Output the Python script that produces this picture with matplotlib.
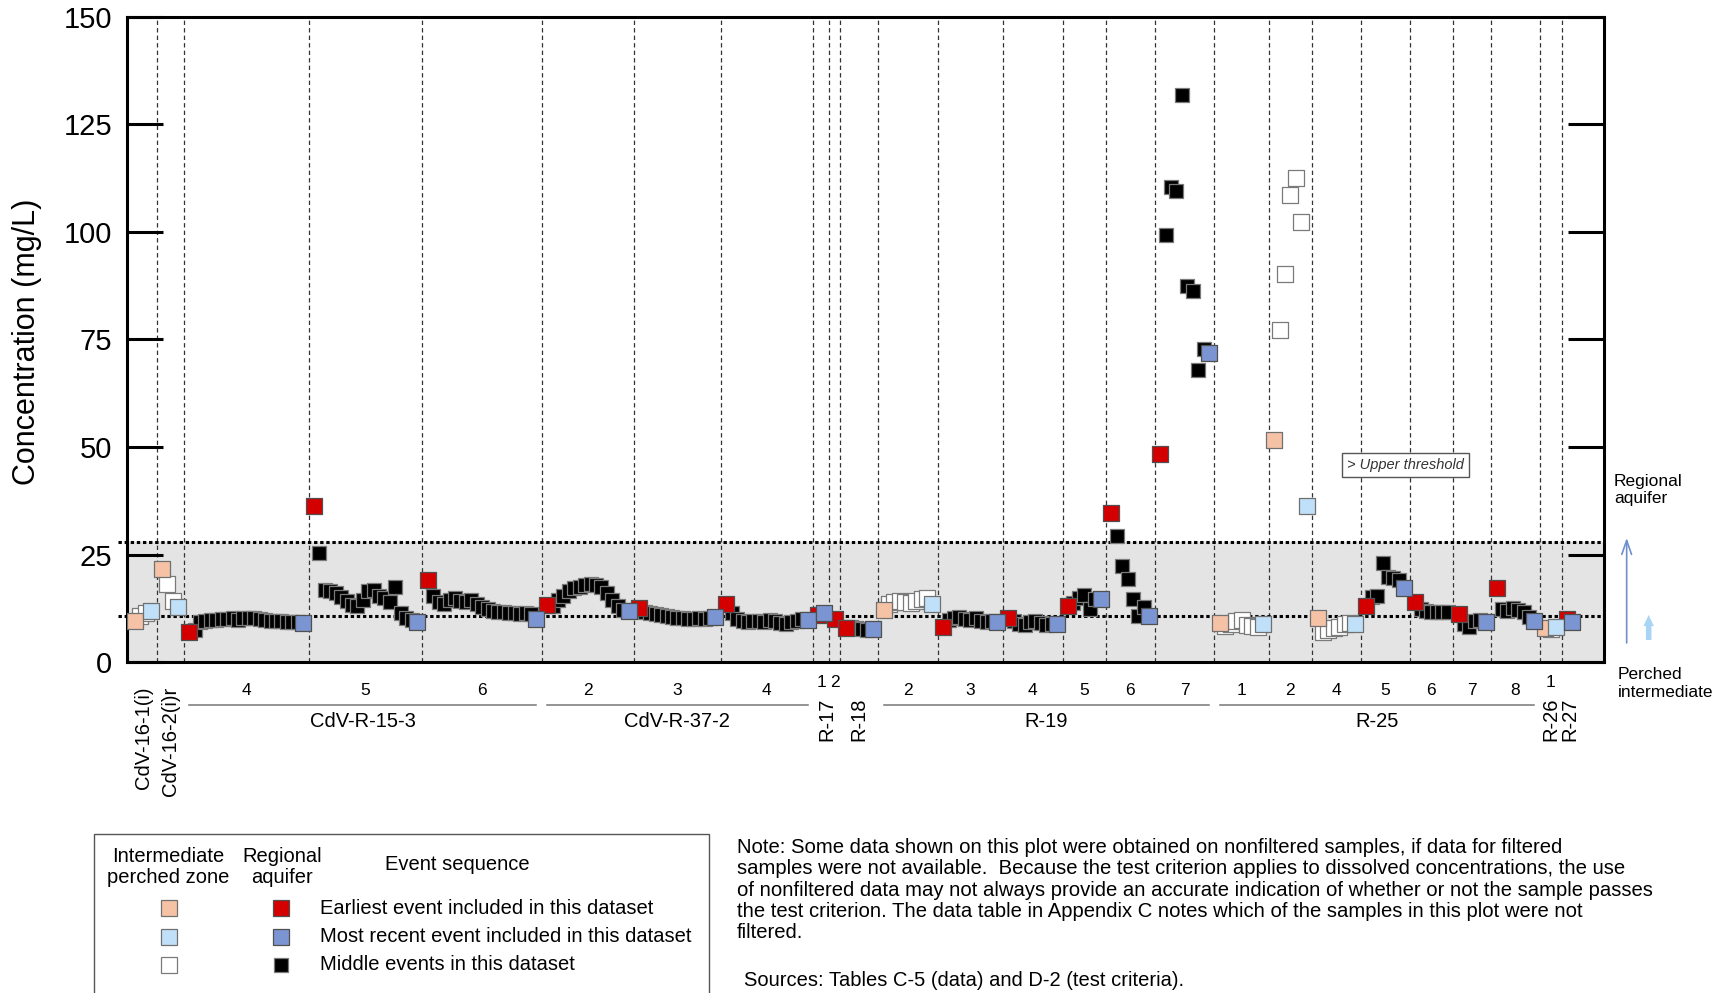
import numpy as np
import matplotlib.pyplot as plt
from itertools import groupby
from matplotlib.lines import Line2D
from matplotlib.patches import Rectangle
from matplotlib.transforms import blended_transform_factory

plt.rcParams['font.family'] = ['Liberation Sans', 'DejaVu Sans']

# concentrations (mg/L) per well screen, in sampling order
cdv16_1 = [9.5, 10.8, 11.5, 12.0]
cdv16_2 = [21.6, 18.3, 14.3, 12.9]
r15_3_s4 = [7.1, 7.6, 9.3, 9.6, 9.8, 9.9, 10.0, 10.1, 10.2, 9.8, 10.3, 10.4, 10.2, 10.0, 9.8, 9.6, 9.5, 9.5, 9.4, 9.3, 9.3, 9.1]
r15_3_s5 = [36.3, 25.3, 16.8, 16.6, 16.0, 15.2, 14.2, 13.4, 13.2, 14.5, 16.6, 16.8, 15.5, 15.0, 14.1, 17.6, 11.4, 10.2, 9.8, 9.4]
r15_3_s6 = [19.1, 15.5, 14.0, 13.5, 14.5, 15.0, 14.2, 14.0, 14.5, 13.5, 12.9, 12.5, 12.0, 11.8, 11.6, 11.4, 11.5, 11.3, 11.5, 11.2, 10.0]
r37_2_s2 = [13.3, 13.0, 14.5, 15.5, 16.5, 17.2, 17.6, 18.0, 18.3, 18.0, 17.4, 16.0, 14.5, 13.0, 12.2, 11.9]
r37_2_s3 = [12.6, 11.8, 11.5, 11.2, 11.0, 10.8, 10.6, 10.4, 10.2, 10.0, 10.0, 10.2, 10.0, 10.4, 10.6]
r37_2_s4 = [13.5, 11.5, 10.0, 9.5, 9.4, 9.6, 9.5, 9.3, 9.8, 9.6, 9.2, 9.0, 9.4, 9.6, 10.0, 9.8]
r17_s1 = [11.0, 11.4]
r17_s2 = [10.0]
r18 = [7.9, 8.2, 7.9, 7.7, 7.5, 7.7]
r19_s2 = [12.2, 13.5, 14.0, 14.2, 14.0, 13.8, 14.2, 14.8, 15.0, 13.5]
r19_s3 = [8.3, 9.8, 10.3, 10.5, 10.0, 9.8, 10.2, 9.6, 9.3, 9.5, 9.4]
r19_s4 = [10.2, 9.5, 9.0, 8.7, 9.3, 9.6, 9.2, 8.7, 9.0, 8.8]
r19_s5 = [13.1, 13.8, 15.0, 15.6, 12.4, 14.6, 14.8]
r19_s6 = [34.8, 29.3, 22.4, 19.3, 14.6, 10.8, 12.9, 10.8]
r19_s7 = [48.5, 99.3, 110.5, 109.5, 131.8, 87.4, 86.2, 67.9, 72.7, 71.8]
r25_s1 = [9.1, 8.5, 9.0, 9.5, 9.8, 8.7, 8.5, 8.3, 8.9]
r25_s2 = [51.6, 77.2, 90.2, 108.5, 112.6, 102.2, 36.3]
r25_s4 = [10.2, 7.0, 7.5, 8.0, 8.3, 8.8, 9.2, 8.8]
r25_s5 = [13.2, 15.2, 15.5, 23.1, 19.9, 19.6, 19.1, 17.2]
r25_s6 = [14.1, 12.5, 12.0, 11.8, 11.7, 11.7, 11.6]
r25_s7 = [11.2, 9.0, 8.2, 9.6, 9.8, 9.3]
r25_s8 = [17.2, 12.3, 12.0, 12.6, 12.2, 11.8, 10.6, 9.6]
r26 = [7.9, 7.8, 8.1]
r27 = [10.0, 9.4]

upper_threshold = 28.0
lower_threshold = 10.8

# (well, screen, zone P=perched / R=regional, values, last sample is the most recent event)
segments = [
    ("CdV-16-1(i)", "", "P", cdv16_1, True),
    ("CdV-16-2(i)r", "", "P", cdv16_2, True),
    ("CdV-R-15-3", "4", "R", r15_3_s4, True),
    ("CdV-R-15-3", "5", "R", r15_3_s5, True),
    ("CdV-R-15-3", "6", "R", r15_3_s6, True),
    ("CdV-R-37-2", "2", "R", r37_2_s2, True),
    ("CdV-R-37-2", "3", "R", r37_2_s3, True),
    ("CdV-R-37-2", "4", "R", r37_2_s4, True),
    ("R-17", "1", "R", r17_s1, True),
    ("R-17", "2", "R", r17_s2, False),
    ("R-18", "", "R", r18, True),
    ("R-19", "2", "P", r19_s2, True),
    ("R-19", "3", "R", r19_s3, True),
    ("R-19", "4", "R", r19_s4, True),
    ("R-19", "5", "R", r19_s5, True),
    ("R-19", "6", "R", r19_s6, True),
    ("R-19", "7", "R", r19_s7, True),
    ("R-25", "1", "P", r25_s1, True),
    ("R-25", "2", "P", r25_s2, True),
    ("R-25", "4", "P", r25_s4, True),
    ("R-25", "5", "R", r25_s5, True),
    ("R-25", "6", "R", r25_s6, False),
    ("R-25", "7", "R", r25_s7, True),
    ("R-25", "8", "R", r25_s8, True),
    ("R-26", "1", "P", r26, True),
    ("R-27", "", "R", r27, True),
]

# first / middle / last colours per zone
colors = {"P": ("#f5c2a6", "white", "#bfe0f8"), "R": ("#d40000", "black", "#7a95d1")}
edges = {"P": ("#707070", "#7a7a7a", "#707070"), "R": ("#505050", "#7a7a7a", "#505050")}

legend_rows = ["Earliest event included in this dataset",
               "Most recent event included in this dataset",
               "Middle events in this dataset"]

note = ("Note: Some data shown on this plot were obtained on nonfiltered samples, if data for filtered\n"
        "samples were not available.  Because the test criterion applies to dissolved concentrations, the use\n"
        "of nonfiltered data may not always provide an accurate indication of whether or not the sample passes\n"
        "the test criterion. The data table in Appendix C notes which of the samples in this plot were not\n"
        "filtered.")


def main():
    fig = plt.figure(figsize=(17.28, 9.93), dpi=100)
    ax = fig.add_axes([0.0737, 0.333, 0.8545, 0.6503])
    bx = blended_transform_factory(ax.transData, ax.transAxes)
    by = blended_transform_factory(ax.transAxes, ax.transData)

    # x positions: one unit per sample, two units between screens
    seg_x = []
    x0 = 0
    for seg in segments:
        x = x0 + np.arange(len(seg[3]))
        seg_x.append(x)
        x0 = x[-1] + 2

    ax.axhspan(0, upper_threshold, color="#e4e4e4", zorder=0)
    for thr in (upper_threshold, lower_threshold):
        ax.plot([-0.006, 1], [thr, thr], transform=by, color="black", lw=2.2,
                dashes=(1.1, 0.9), clip_on=False, zorder=2)

    for i in range(len(segments) - 1):
        xs = (seg_x[i][-1] + seg_x[i + 1][0]) / 2
        ax.axvline(xs, color="#333333", lw=0.9, ls=(0, (3.5, 2.5)), zorder=1)

    for (well, scr, zone, vals, recent), x in zip(segments, seg_x):
        vals = np.asarray(vals)
        c_first, c_mid, c_last = colors[zone]
        e_first, e_mid, e_last = edges[zone]
        n_mid_end = len(vals) - 1 if recent else len(vals)
        if n_mid_end > 1:
            ax.scatter(x[1:n_mid_end], vals[1:n_mid_end], marker="s",
                       s=100 if zone == "R" else 118, c=c_mid, edgecolors=e_mid,
                       linewidths=0.9, zorder=3)
        ax.scatter(x[:1], vals[:1], marker="s", s=125, c=c_first,
                   edgecolors=e_first, linewidths=0.9, zorder=4)
        if recent and len(vals) > 1:
            ax.scatter(x[-1:], vals[-1:], marker="s", s=125, c=c_last,
                       edgecolors=e_last, linewidths=0.9, zorder=5)

    # labels under the axis
    idx = list(range(len(segments)))
    for well, grp in groupby(idx, key=lambda k: segments[k][0]):
        grp = list(grp)
        xa = seg_x[grp[0]][0]
        xb = seg_x[grp[-1]][-1]
        if len(grp) >= 3:
            for k in grp:
                ax.text(seg_x[k].mean(), -0.044, segments[k][1], transform=bx,
                        ha="center", va="center", fontsize=12.5)
            ax.plot([xa, xb], [-0.066, -0.066], transform=bx, color="#777777",
                    lw=1.1, clip_on=False)
            ax.text((xa + xb) / 2, -0.092, well, transform=bx, ha="center",
                    va="center", fontsize=14.5)
        else:
            for k in grp:
                if segments[k][1]:
                    ax.text(seg_x[k].mean(), -0.032, segments[k][1], transform=bx,
                            ha="center", va="center", fontsize=12.5)
            ytop = -0.055 if well.startswith("R-") else -0.038
            ax.text((xa + xb) / 2, ytop, well, transform=bx, rotation=90,
                    ha="center", va="top", fontsize=14.5)

    ax.text(0.8656, 45.8, "> Upper threshold", transform=by, ha="center",
            va="center", style="italic", fontsize=10.5, color="#333333", zorder=6,
            bbox=dict(boxstyle="square,pad=0.35", fc="white", ec="#555555", lw=1))

    ax.annotate("", xy=(1.0154, 28.9), xytext=(1.0154, 4.5), xycoords=by,
                textcoords=by, annotation_clip=False,
                arrowprops=dict(arrowstyle="->,head_length=1.0,head_width=0.35",
                                color="#6f8fd0", lw=1.2, shrinkA=0, shrinkB=0))
    ax.annotate("", xy=(1.0303, 11.0), xytext=(1.0303, 5.2), xycoords=by,
                textcoords=by, annotation_clip=False,
                arrowprops=dict(arrowstyle="simple,head_length=0.8,head_width=0.75,tail_width=0.4",
                                color="#a8d4f5", lw=0, shrinkA=0, shrinkB=0))

    ax.set_xlim(-1.4, seg_x[-1][-1] + 5.8)
    ax.set_ylim(0, 150)
    ax.set_xticks([])
    ax.set_yticks([0, 25, 50, 75, 100, 125, 150])
    ax.tick_params(axis="y", direction="in", length=26, width=2.2, labelsize=21,
                   right=True, pad=11)
    for sp in ax.spines.values():
        sp.set_linewidth(2.2)
    ax.set_zorder(1)

    fig.text(0.0159, 0.6556, "Concentration (mg/L)", rotation=90, ha="center",
             va="center", fontsize=22)
    fig.text(0.934, 1 - 490 / 993, "Regional\naquifer", ha="left", va="center",
             fontsize=12.5)
    fig.text(0.9363, 1 - 683.5 / 993, "Perched\nintermediate", ha="left",
             va="center", fontsize=12.5)

    # legend box
    fig.add_artist(Rectangle((94 / 1728, -0.01), (709 - 94) / 1728, 1 - 834 / 993 + 0.01,
                             transform=fig.transFigure, fill=False, ec="#555555", lw=1))
    fig.text(0.0972, 1 - 867 / 993, "Intermediate\nperched zone", ha="center",
             va="center", fontsize=14.5, linespacing=1.15)
    fig.text(0.1632, 1 - 867 / 993, "Regional\naquifer", ha="center",
             va="center", fontsize=14.5, linespacing=1.15)
    fig.text(0.2645, 1 - 865 / 993, "Event sequence", ha="center", va="center",
             fontsize=14.5)
    order = [0, 2, 1]
    for row, (label, j) in enumerate(zip(legend_rows, order)):
        yy = 1 - [908, 937, 965][row] / 993
        for xx, zone in ((169 / 1728, "P"), (281 / 1728, "R")):
            ms = 9.7 if (zone == "R" and j == 1) else 11
            fig.add_artist(Line2D([xx], [yy], marker="s", ms=ms, mfc=colors[zone][j],
                                  mec=edges[zone][j], mew=0.9, ls="none",
                                  transform=fig.transFigure))
        fig.text(320 / 1728, yy, label, ha="left", va="center", fontsize=14.5)

    fig.text(737 / 1728, 1 - 838 / 993, note, ha="left", va="top", fontsize=14.6,
             linespacing=1.15)
    fig.text(744 / 1728, 1 - 980 / 993, "Sources: Tables C-5 (data) and D-2 (test criteria).",
             ha="left", va="center", fontsize=14.5)

    fig.savefig("out.png", dpi=100, facecolor="white")


if __name__ == "__main__":
    main()
